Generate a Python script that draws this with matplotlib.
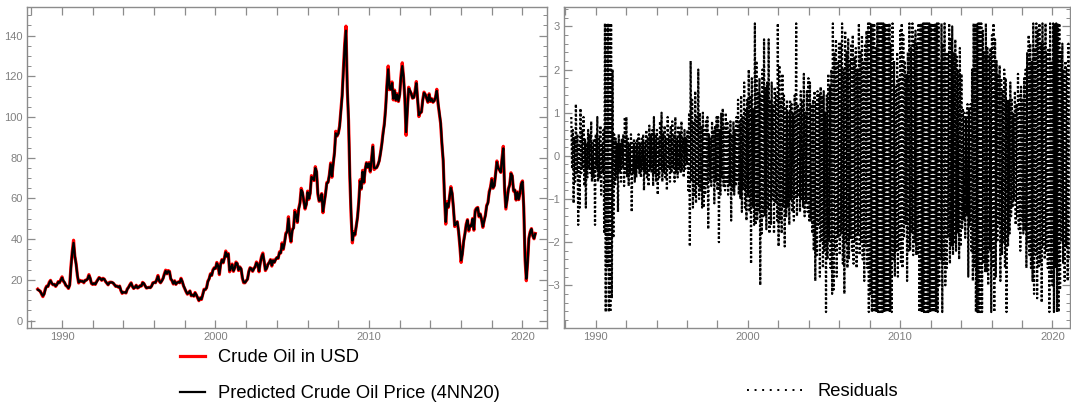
import numpy as np
import matplotlib.pyplot as plt
from matplotlib.lines import Line2D
from matplotlib.ticker import MultipleLocator

# monthly Brent crude, Jun 1988 .. Nov 2020
price = [
    15.5, 14.8, 14.5, 13.0, 11.8, 13.2, 15.8,
    17.0, 16.8, 18.9, 19.8, 18.2, 17.6, 17.9, 16.8, 17.8, 19.2, 18.6, 20.2,
    21.5, 19.4, 18.6, 17.2, 16.8, 15.8, 17.6, 27.0, 34.0, 39.5, 31.5, 28.0,
    22.0, 18.5, 19.8, 19.2, 19.5, 18.6, 19.8, 19.9, 20.6, 22.6, 20.8, 18.2,
    17.8, 18.4, 17.8, 19.2, 20.2, 21.2, 20.6, 19.8, 20.8, 20.4, 19.2, 18.4,
    17.6, 18.8, 18.9, 18.8, 18.4, 17.6, 16.8, 17.0, 16.4, 17.0, 14.8, 13.4,
    14.0, 13.8, 13.6, 15.6, 16.4, 17.6, 18.6, 16.8, 15.8, 16.4, 17.4, 16.0,
    16.4, 17.2, 17.0, 18.8, 18.2, 17.0, 16.0, 16.2, 16.4, 16.2, 17.0, 18.6,
    18.8, 18.6, 20.2, 22.2, 19.4, 18.6, 19.6, 20.8, 23.0, 24.8, 23.0, 24.6,
    24.2, 20.4, 19.6, 18.0, 19.6, 17.8, 18.8, 19.0, 18.6, 20.8, 19.2, 17.0,
    15.6, 14.2, 13.0, 13.8, 14.6, 12.2, 12.6, 12.0, 13.8, 12.6, 11.2, 9.8,
    11.2, 10.4, 12.8, 15.4, 15.2, 16.2, 19.4, 20.6, 23.0, 22.2, 25.0, 26.0,
    25.6, 28.6, 27.0, 22.6, 28.0, 30.0, 28.4, 31.0, 34.2, 31.4, 33.0, 24.0,
    25.8, 27.8, 24.2, 26.0, 28.8, 28.0, 24.6, 26.4, 25.4, 20.8, 18.6, 18.6,
    19.6, 20.4, 24.2, 26.0, 25.6, 24.2, 25.6, 26.6, 28.8, 27.6, 24.0, 28.6,
    31.6, 33.2, 29.0, 24.6, 25.8, 27.8, 28.6, 30.0, 26.8, 29.8, 28.6, 30.2,
    31.0, 30.6, 33.8, 33.2, 38.2, 35.0, 38.6, 43.0, 43.8, 51.0, 42.2, 38.6,
    44.8, 45.6, 54.2, 51.6, 48.2, 55.0, 57.8, 65.0, 62.8, 58.4, 54.8, 57.2,
    63.6, 59.6, 62.6, 71.2, 70.0, 68.8, 75.6, 73.0, 62.0, 58.6, 59.0, 62.4,
    53.0, 58.0, 62.4, 67.8, 68.0, 71.6, 77.4, 70.4, 77.2, 82.6, 93.0, 90.6,
    92.0, 95.6, 103.0, 110.8, 124.0, 136.0, 144.6, 113.6, 98.2, 70.4, 51.6, 38.2,
    43.6, 42.0, 46.4, 50.8, 58.4, 69.2, 64.6, 73.8, 67.6, 74.4, 77.6, 75.2,
    77.6, 73.0, 79.4, 86.2, 74.2, 74.8, 75.2, 76.6, 78.6, 82.4, 86.8, 92.4,
    96.8, 104.6, 116.0, 125.0, 113.4, 113.6, 117.2, 108.4, 113.2, 108.0, 111.4, 107.6,
    111.2, 120.4, 126.6, 119.4, 108.6, 91.0, 103.8, 114.6, 112.8, 111.6, 109.2, 109.6,
    112.8, 117.4, 108.4, 100.2, 102.2, 102.4, 108.4, 112.2, 111.0, 109.2, 107.2, 111.4,
    107.6, 109.0, 107.2, 108.0, 109.8, 113.6, 106.4, 101.6, 96.8, 86.6, 78.4, 60.6,
    47.4, 58.4, 55.6, 61.0, 65.8, 62.4, 55.2, 46.2, 48.0, 48.6, 43.8, 36.8,
    28.6, 33.0, 39.2, 42.8, 47.4, 49.6, 44.0, 46.8, 46.4, 50.2, 44.4, 54.2,
    55.2, 55.6, 51.0, 52.4, 49.6, 45.8, 49.2, 51.8, 56.6, 58.0, 63.4, 65.6,
    69.8, 65.0, 66.4, 72.6, 78.4, 74.8, 74.0, 72.8, 79.8, 85.6, 64.2, 54.8,
    59.6, 64.8, 66.8, 72.6, 71.0, 63.6, 64.2, 59.2, 63.2, 59.4, 62.6, 67.4,
    68.6, 55.2, 30.0, 19.6, 28.8, 40.6, 43.6, 45.2, 41.6, 40.2, 42.8,
]

predicted = [
    15.2, 14.9, 14.3, 13.3, 12.2, 13.0, 15.4,
    16.8, 16.9, 18.5, 19.6, 18.4, 17.7, 17.8, 17.0, 17.6, 19.0, 18.7, 19.9,
    21.1, 19.6, 18.7, 17.4, 16.9, 16.0, 17.4, 26.4, 33.4, 38.2, 31.8, 27.6,
    22.4, 18.8, 19.6, 19.3, 19.4, 18.8, 19.7, 19.9, 20.4, 22.2, 20.9, 18.4,
    17.9, 18.3, 17.9, 19.0, 20.0, 21.0, 20.7, 19.9, 20.6, 20.4, 19.3, 18.5,
    17.7, 18.6, 18.8, 18.8, 18.5, 17.7, 16.9, 16.9, 16.5, 16.9, 15.0, 13.6,
    13.9, 13.9, 13.7, 15.4, 16.3, 17.5, 18.4, 16.9, 15.9, 16.3, 17.3, 16.1,
    16.4, 17.1, 17.0, 18.6, 18.3, 17.1, 16.1, 16.2, 16.3, 16.2, 16.9, 18.4,
    18.7, 18.7, 20.0, 21.8, 19.6, 18.7, 19.5, 20.7, 22.7, 24.4, 23.1, 24.3,
    24.0, 20.7, 19.7, 18.2, 19.4, 17.9, 18.7, 18.9, 18.7, 20.5, 19.3, 17.2,
    15.8, 14.3, 13.2, 13.7, 14.5, 12.4, 12.5, 12.1, 13.6, 12.7, 11.3, 10.0,
    11.0, 10.6, 12.6, 15.1, 15.3, 16.1, 19.1, 20.5, 22.7, 22.3, 24.7, 25.8,
    25.7, 28.2, 27.1, 23.0, 27.6, 29.8, 28.6, 30.7, 33.6, 31.6, 32.7, 24.6,
    25.6, 27.5, 24.5, 25.8, 28.4, 28.1, 24.9, 26.2, 25.5, 21.2, 18.9, 18.7,
    19.5, 20.4, 23.8, 25.8, 25.6, 24.4, 25.5, 26.5, 28.4, 27.7, 24.4, 28.2,
    31.1, 32.7, 29.4, 25.0, 25.7, 27.6, 28.5, 29.8, 27.1, 29.5, 28.7, 30.0,
    30.9, 30.7, 33.4, 33.3, 37.6, 35.3, 38.3, 42.5, 43.6, 50.1, 42.8, 39.0,
    44.2, 45.5, 53.4, 51.8, 48.6, 54.6, 57.5, 64.2, 63.0, 58.8, 55.2, 57.0,
    63.0, 59.9, 62.4, 70.5, 70.1, 69.0, 74.9, 73.2, 62.7, 58.9, 59.1, 62.1,
    53.6, 57.7, 62.1, 67.4, 68.0, 71.3, 76.8, 70.9, 76.9, 82.1, 92.0, 90.8,
    91.9, 95.1, 102.4, 110.2, 122.9, 134.6, 142.4, 115.0, 98.9, 71.8, 52.6, 39.4,
    43.0, 42.3, 46.2, 50.6, 57.9, 68.4, 65.0, 73.1, 68.0, 74.0, 77.3, 75.4,
    77.2, 73.5, 78.9, 85.4, 75.0, 74.9, 75.2, 76.5, 78.4, 82.1, 86.3, 91.7,
    96.2, 103.8, 114.9, 123.4, 114.1, 113.5, 116.6, 109.0, 112.8, 108.4, 111.0, 107.9,
    110.8, 119.5, 125.0, 119.8, 109.5, 92.6, 103.0, 113.9, 113.0, 111.5, 109.4, 109.5,
    112.2, 116.6, 108.9, 100.9, 102.1, 102.5, 108.0, 111.8, 111.1, 109.3, 107.5, 111.0,
    107.9, 108.8, 107.4, 107.9, 109.6, 112.8, 106.9, 101.9, 97.3, 87.4, 79.0, 61.8,
    48.5, 57.6, 55.9, 60.4, 65.1, 62.6, 55.8, 46.8, 47.8, 48.5, 44.2, 37.5,
    29.6, 32.7, 38.7, 42.5, 47.0, 49.3, 44.5, 46.6, 46.5, 49.9, 44.8, 53.5,
    55.0, 55.4, 51.3, 52.2, 49.8, 46.2, 49.0, 51.6, 56.2, 57.8, 62.9, 65.3,
    69.3, 65.3, 66.3, 72.1, 77.8, 75.0, 74.1, 72.9, 79.3, 84.6, 65.2, 55.6,
    59.2, 64.5, 66.7, 72.2, 71.1, 63.9, 64.1, 59.5, 63.0, 59.6, 62.5, 67.0,
    68.2, 56.0, 31.2, 20.6, 28.4, 40.2, 43.4, 45.0, 41.8, 40.4, 42.6,
]

# residuals, about 20 per year from mid 1988 (plot range clips at 3.07 / -3.62)
residuals = [
    0.9, -0.3, 0.6, -1.1, 0.4, -0.6, 1.2, -0.4, 0.5, -1.6, 0.3, -1.2,
    1.1, -0.4, 0.6, -0.3, 0.9, -0.7, 0.4, -1.2, 0.3, -0.5, 0.6, -0.3, 0.5, -0.4, 0.8, -0.6, 0.3, -0.5, 0.4, -1.6,
    0.5, -0.3, 0.9, -0.6, 0.4, -0.5, 0.7, -0.9, 0.3, -0.4, 0.6, -1.8, 3.07, -3.62, 3.07, -2.6, 3.07, -3.62, 3.07, -3.62,
    3.07, -3.3, 2.0, -1.9, 0.5, -0.7, 0.4, -0.5, 0.3, -1.3, 0.5, -0.4, 0.3, -0.6, 0.4, -0.3, 0.5, -0.7, 0.9, -0.4,
    0.9, -0.5, 0.4, -0.7, 0.3, -0.4, 0.5, -1.3, 0.3, -0.4, 0.4, -0.6, 0.3, -0.5, 0.4, -0.3, 0.5, -0.4, 0.3, -0.5,
    0.4, -0.3, 0.5, -0.8, 0.3, -0.4, 0.6, -0.5, 0.4, -0.7, 0.7, -0.3, 0.5, -0.4, 0.6, -0.7, 0.9, -0.4, 0.5, -0.6,
    0.6, -0.9, 0.4, -0.5, 0.8, -0.3, 1.0, -0.6, 0.5, -0.4, 0.7, -0.5, 0.4, -0.8, 0.9, -0.3, 0.5, -0.6, 0.7, -0.4,
    0.8, -0.3, 0.5, -0.6, 0.9, -0.4, 0.4, -0.5, 0.7, -0.3, 0.5, -0.4, 0.8, -0.3, 0.4, -0.5, 0.6, -0.3, 0.4, -0.2,
    0.6, -0.8, 1.0, -2.1, 2.2, -0.6, 1.3, -1.2, 0.8, -0.9, 1.5, -1.1, 0.9, -0.7, 2.0, -1.0, 1.0, -0.8, 0.7, -1.2,
    1.0, -1.2, 0.6, -0.9, 0.8, -0.7, 0.9, -1.7, 0.5, -0.6, 0.4, -0.7, 0.8, -0.5, 0.6, -1.1, 0.7, -0.6, 0.9, -0.8,
    0.9, -2.0, 0.6, -0.9, 1.0, -0.5, 1.1, -0.7, 0.7, -0.8, 1.0, -0.6, 0.8, -0.9, 0.6, -0.7, 0.8, -1.5, 0.5, -0.8,
    0.8, -0.9, 0.6, -0.7, 0.9, -0.6, 1.3, -0.9, 0.8, -1.0, 1.4, -1.3, 0.9, -0.8, 1.7, -1.2, 1.1, -1.5, 1.3, -0.9,
    2.0, -1.3, 1.4, -2.5, 1.8, -1.2, 1.1, -1.6, 3.07, -1.6, 2.2, -1.5, 1.5, -1.3, 1.8, -3.0, 1.4, -1.8, 2.0, -1.4,
    2.7, -1.4, 1.6, -1.7, 1.7, -1.2, 2.7, -1.8, 1.3, -1.6, 1.7, -1.0, 1.2, -1.8, 1.6, -1.1, 1.4, -1.5, 3.07, -2.1,
    2.1, -1.5, 1.3, -1.8, 1.9, -1.2, 1.4, -2.1, 1.1, -1.4, 1.3, -1.2, 1.0, -1.6, 1.3, -1.0, 1.2, -1.3, 1.0, -1.5,
    1.4, -1.0, 3.07, -1.4, 1.2, -0.9, 1.1, -1.3, 1.5, -1.0, 1.3, -1.2, 1.9, -1.4, 1.0, -1.1, 1.5, -1.3, 1.8, -1.5,
    1.7, -1.5, 1.2, -1.8, 1.3, -2.2, 1.5, -2.9, 1.2, -2.3, 1.5, -1.6, 1.4, -2.8, 1.6, -2.0, 1.4, -2.6, 1.5, -2.2,
    1.0, -3.62, 1.4, -2.4, 1.9, -2.0, 1.6, -2.6, 2.0, -3.2, 3.07, -3.1, 2.4, -2.2, 2.7, -2.8, 2.2, -1.9, 2.6, -2.3,
    2.6, -1.8, 3.07, -2.5, 2.0, -3.2, 2.9, -2.0, 2.4, -2.6, 2.7, -2.4, 2.2, -1.9, 2.6, -2.2, 2.8, -2.5, 2.3, -2.0,
    2.5, -2.6, 2.0, -1.8, 3.07, -2.3, 2.4, -2.0, 2.8, -2.4, 2.2, -2.9, 2.6, -2.1, 2.9, -2.6, 3.07, -3.62, 3.07, -3.2,
    3.07, -3.62, 3.07, -3.62, 3.07, -3.62, 2.5, -3.62, 3.07, -3.62, 3.07, -3.62, 3.07, -3.62, 3.07, -3.62, 3.07, -3.62, 3.07, -3.62,
    3.07, -3.62, 3.07, -3.62, 3.07, -3.62, 2.6, -3.62, 3.07, -2.4, 2.2, -2.8, 1.6, -2.2, 2.4, -2.8, 1.8, -2.2, 2.9, -2.5,
    3.07, -2.6, 2.8, -1.9, 2.2, -1.6, 1.9, -2.9, 2.4, -2.2, 3.07, -2.2, 2.5, -1.8, 3.07, -2.3, 2.7, -2.0, 2.9, -2.3,
    2.6, -2.3, 3.07, -3.62, 3.07, -3.62, 3.07, -3.62, 3.07, -3.62, 3.07, -3.62, 3.07, -3.62, 3.07, -3.62, 3.07, -3.62, 3.07, -3.62,
    3.07, -3.62, 3.07, -3.62, 3.07, -3.62, 3.07, -3.62, 3.07, -3.0, 2.2, -2.4, 3.07, -3.62, 2.6, -2.5, 3.07, -3.0, 2.4, -2.6,
    2.4, -1.9, 3.07, -2.5, 2.7, -2.1, 3.0, -2.3, 2.4, -2.0, 2.7, -2.2, 2.3, -1.8, 2.0, -2.4, 2.5, -2.1, 1.9, -1.7,
    1.1, -1.5, 1.0, -1.9, 0.9, -1.4, 1.2, -2.8, 1.1, -1.6, 1.2, -2.2, 2.0, -2.9, 3.07, -2.6, 3.07, -3.62, 3.07, -3.62,
    3.07, -3.62, 3.07, -3.62, 3.07, -3.62, 2.9, -2.5, 2.4, -2.7, 3.07, -2.7, 2.5, -3.0, 2.3, -2.2, 2.5, -3.62, 2.8, -2.6,
    3.07, -3.62, 2.7, -2.8, 2.2, -2.0, 1.9, -1.6, 2.1, -2.9, 1.8, -2.3, 1.5, -2.0, 2.0, -2.6, 1.8, -3.62, 1.3, -2.1,
    1.3, -1.8, 1.7, -1.4, 1.3, -1.2, 1.0, -1.0, 1.5, -1.6, 1.2, -1.4, 1.9, -1.7, 1.4, -2.2, 1.6, -1.5, 1.3, -1.8,
    1.8, -1.7, 2.0, -2.6, 2.4, -2.0, 2.8, -2.3, 2.6, -2.6, 2.2, -2.9, 3.07, -3.2, 2.5, -2.3, 3.07, -3.3, 2.9, -2.6,
    3.07, -2.5, 2.6, -3.4, 3.07, -2.1, 2.6, -2.4, 3.07, -2.2, 2.4, -2.6, 2.5, -3.62, 3.07, -2.8, 2.2, -3.0, 3.07, -3.62,
    3.07, -2.6, 3.07, -3.62, 3.07, -3.62, 3.07, -3.1, 2.4, -2.0, 2.6, -2.5, 2.0, -2.9, 2.2, -2.1, 2.0, -2.9, 2.6, -2.4,
]

t_price = 1988.42 + np.arange(len(price)) / 12
t_resid = np.linspace(1988.4, 2021.1, len(residuals))

plt.rcParams['font.family'] = ['Liberation Sans', 'DejaVu Sans']
frame_col = '#8c8c8c'
tick_col = '#808080'
tick_font = ['Liberation Sans Narrow', 'DejaVu Sans Condensed', 'Liberation Sans']

fig = plt.figure(figsize=(10.71, 4.03), dpi=100)
ax1 = fig.add_axes([27/1071, 1 - 328/403, 520/1071, 321/403])
ax2 = fig.add_axes([564/1071, 1 - 328/403, 506/1071, 321/403])

l1, = ax1.plot(t_price, price, color='red', lw=2.3, label='Crude Oil in USD')
l2, = ax1.plot(t_price, predicted, color='black', lw=1.6,
               label='Predicted Crude Oil Price (4NN20)')
ax1.set_xlim(1987.72, 2021.6)
ax1.set_ylim(-3.6, 154)
ax1.yaxis.set_major_locator(MultipleLocator(20))
ax1.yaxis.set_minor_locator(MultipleLocator(5))

ax2.plot(t_resid, residuals, color='black', lw=1.6, linestyle=(0, (1, 1.0)))
ax2.set_xlim(1987.92, 2021.15)
ax2.set_ylim(-3.99, 3.45)
ax2.yaxis.set_major_locator(MultipleLocator(1))
ax2.yaxis.set_minor_locator(MultipleLocator(0.2))

for ax in (ax1, ax2):
    ax.xaxis.set_major_locator(MultipleLocator(10))
    ax.xaxis.set_minor_locator(MultipleLocator(2))
    ax.tick_params(which='both', direction='in', top=True, right=True,
                   color=frame_col, labelcolor=tick_col, labelsize=8, pad=3)
    ax.tick_params(which='major', length=6, width=0.9)
    ax.tick_params(which='minor', length=3, width=0.7)
    ax.tick_params(axis='x', which='minor', length=6, width=0.9)
    for s in ax.spines.values():
        s.set_color(frame_col)
        s.set_linewidth(1.0)
    for lab in ax.get_xticklabels() + ax.get_yticklabels():
        lab.set_family(tick_font)
        lab.set_stretch('condensed')

leg1 = ax1.legend(handles=[l1, l2], loc='upper left',
                  bbox_to_anchor=(180/1071, 1 - 349/403),
                  bbox_transform=fig.transFigure, frameon=False,
                  fontsize=13.2, borderpad=0, borderaxespad=0,
                  handlelength=1.37, handletextpad=0.7, labelspacing=1.05)
resid_handle = Line2D([], [], color='black', lw=1.4, linestyle=(0, (1, 2.9)))
leg2 = ax2.legend(handles=[resid_handle], labels=['Residuals'], loc='upper left',
                  bbox_to_anchor=(747/1071, 1 - 383/403),
                  bbox_transform=fig.transFigure, frameon=False,
                  fontsize=13.2, borderpad=0, borderaxespad=0,
                  handlelength=3.0, handletextpad=0.87)

fig.savefig('out.png', dpi=100)
